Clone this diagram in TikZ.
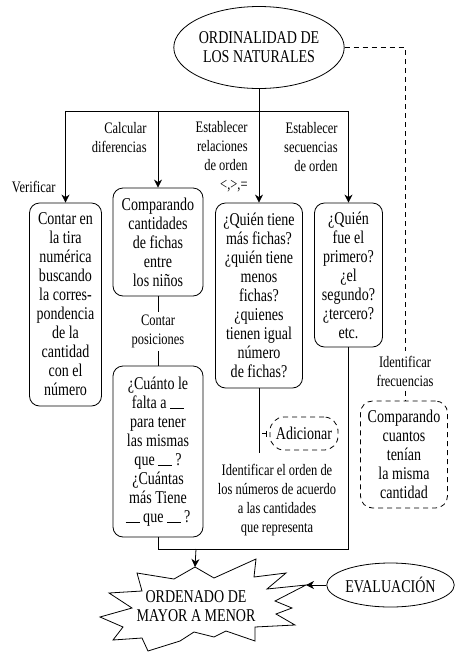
\documentclass[tikz,border=0pt]{standalone}
\usepackage{fontspec}
\newfontfamily\dfont{Liberation Serif}[FakeStretch=0.78]
\usetikzlibrary{shapes.geometric,arrows.meta,calc}
\newcommand\myblank{\rule[-0.5pt]{14pt}{0.6pt}}
\begin{document}
\begin{tikzpicture}[x=1pt,y=-1pt,line width=0.8pt,
  mainfont/.style={font=\dfont\fontsize{18}{19}\selectfont},
  lblfont/.style={font=\dfont\fontsize{16}{19}\selectfont},
  box/.style={draw, rounded corners=10pt, align=center, inner sep=0pt, mainfont},
  dbox/.style={box, rounded corners=12pt, dash pattern=on 5pt off 4pt},
  ell/.style={draw, ellipse, inner sep=0pt, align=center, mainfont},
  lbl/.style={inner sep=0pt, lblfont},
  arr/.style={-{Stealth[length=8pt,width=8pt,inset=2.5pt]}},
  dsh/.style={dash pattern=on 5pt off 4pt}]
\useasboundingbox (0,0) rectangle (467,665);

% top ellipse
\node[ell, minimum width=158pt, minimum height=82pt] (top) at (259,47.5) {ORDINALIDAD DE\\LOS NATURALES};

% boxes
\node[box, minimum width=72pt, minimum height=203pt] (b1) at (65.5,304.5)
  {Contar en\\la tira\\numérica\\buscando\\la corres-\\pondencia\\de la\\cantidad\\con el\\número};
\node[box, minimum width=90pt, minimum height=108pt] (b2) at (158,242)
  {Comparando\\cantidades\\de fichas\\entre\\los niños};
\node[box, minimum width=87pt, minimum height=185pt] (b3) at (259,295.5)
  {¿Quién tiene\\más fichas?\\¿quién tiene\\menos\\fichas?\\¿quienes\\tienen igual\\número\\de fichas?};
\node[box, minimum width=68pt, minimum height=144pt] (b4) at (348.5,275)
  {¿Quién\\fue el\\primero?\\¿el\\segundo?\\¿tercero?\\etc.};
\node[box, minimum width=90pt, minimum height=171pt] (b5) at (158,451.5)
  {¿Cuánto le\\falta a \myblank\\para tener\\las mismas\\que \myblank\,?\\¿Cuántas\\más Tiene\\\myblank{} que \myblank\,?};
\node[dbox, rounded corners=14pt, minimum width=68pt, minimum height=33pt] (adic) at (304,433.5) {Adicionar};
\node[dbox, minimum width=87pt, minimum height=107pt] (cmp) at (404,454.5)
  {Comparando\\cuantos\\tenían\\la misma\\cantidad};

% labels
\node[lbl, anchor=east] (lv) at (56,187) {Verificar};
\node[lbl, anchor=east, align=right] (lc) at (147,138) {Calcular\\diferencias};
\node[lbl, anchor=east, align=right] (lr) at (248,157) {Establecer\\relaciones\\de orden\\<,>,=};
\node[lbl, anchor=east, align=right] (ls) at (338,147.5) {Establecer\\secuencias\\de orden};
\node[lbl, align=center, inner sep=3pt, fill=white] (cp) at (158,331.5) {Contar\\posiciones};
\node[lbl, align=center] (ident) at (277,500.5) {Identificar el orden de\\los números de acuerdo\\a las cantidades\\que representa};
\node[lbl, align=center, inner sep=4pt] (frec) at (405,371) {Identificar\\frecuencias};

% tree from top
\draw (top.south) -- ++(0,22) coordinate (hub);
\draw (b1.north |- hub) -- (b4.north |- hub);
\draw[arr] (b1.north |- hub) -- (b1.north);
\draw[arr] (b2.north |- hub) -- (b2.north);
\draw[arr] (b3.north |- hub) -- (b3.north);
\draw[arr] (b4.north |- hub) -- (b4.north);

% box2 - box5
\draw (b2.south) -- (cp.north);
\draw (cp.south) -- (b5.south |- b5.north);

% box3 down + adicionar
\draw (b3.south) -- ++(0,65) coordinate (b3end);
\coordinate (tk) at ($(b3.south |- adic.west)+(3,0)$);
\draw[-{Bar[width=6pt]}, shorten >=3pt] (tk) -- (adic.west);

% bottom joins
\coordinate (jn) at (196,549);
\draw (b4.south) |- (b5.south |- jn) -- (b5.south);

% star
\draw[line join=miter] (195,567) -- (214,578) -- (256,559) -- (254,577) -- (286,573) -- (267,589)
  -- (306,585) -- (275,601) -- (292,608) -- (276,614) -- (295,625) -- (255,627)
  -- (255,641) -- (226,631) -- (214,637) -- (194,632) -- (180,641) -- (148,651)
  -- (142,638) -- (113,640) -- (123,627) -- (100,617) -- (132,608) -- (109,593)
  -- (142,591) -- (137,573) -- (174,579) -- cycle;
\coordinate (startop) at (195,567);
\coordinate (starright) at (306,585);
\node[mainfont, align=center, inner sep=0pt] (star) at (196,606.5) {ORDENADO DE\\MAYOR A MENOR};
\draw[arr] (jn) -- (startop);

% evaluation
\node[ell, minimum width=113pt, minimum height=44pt] (eval) at (390.5,585) {EVALUACIÓN};
\draw[arr] (eval.west) -- (starright);

% dashed
\draw[dsh] (top.east) -| (frec.north);
\draw[dsh] (frec.south) -- (frec.south |- cmp.north);
\end{tikzpicture}
\end{document}
